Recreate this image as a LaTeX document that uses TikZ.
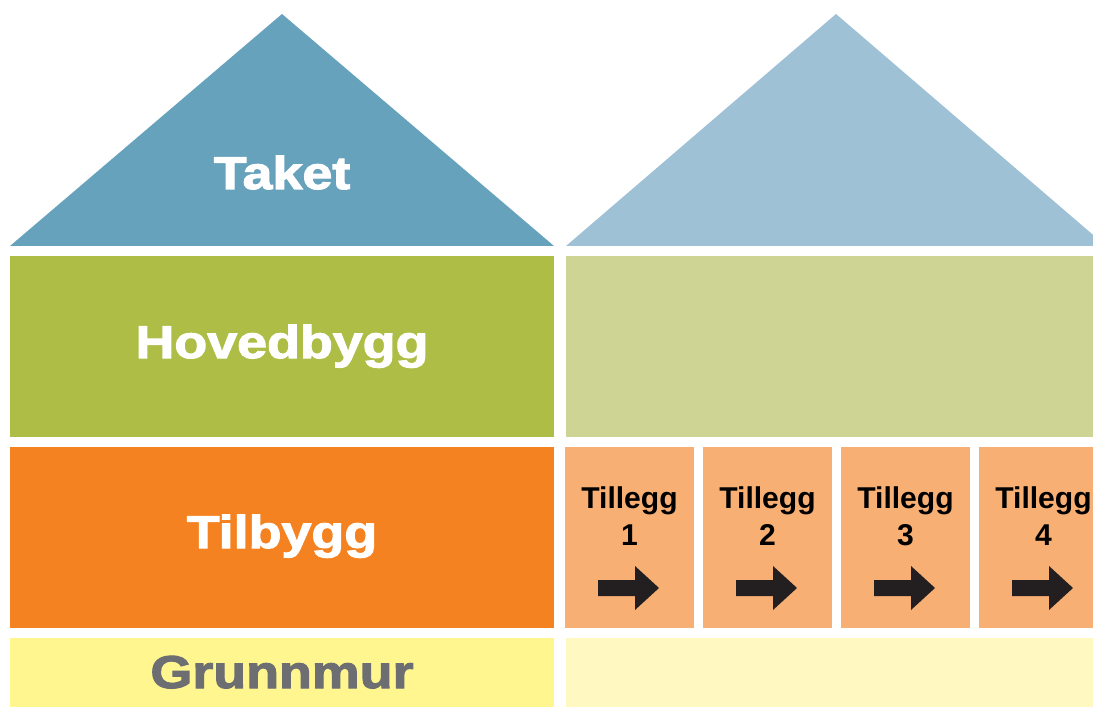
\documentclass[tikz,border=0pt]{standalone}
\usepackage{fontspec}
\setmainfont{Liberation Sans}
\newfontfamily\tykk{Liberation Sans}[FakeBold=2.5,FakeStretch=1.17]

\definecolor{taketmork}{HTML}{67A2BD}
\definecolor{taketlys}{HTML}{9FC1D6}
\definecolor{hovedmork}{HTML}{ADBD45}
\definecolor{hovedlys}{HTML}{CDD494}
\definecolor{tilbyggmork}{HTML}{F58220}
\definecolor{tilleggfarge}{HTML}{F8AF73}
\definecolor{grunnmork}{HTML}{FFF68F}
\definecolor{grunnlys}{HTML}{FFF9C1}
\definecolor{grunntekst}{HTML}{6D6E71}
\definecolor{pil}{HTML}{231F20}

\begin{document}
\begin{tikzpicture}[x=0.025cm,y=-0.025cm,
  stor/.style={font=\tykk\fontsize{32.7}{36}\selectfont\bfseries,text=white,anchor=base,inner sep=0pt},
  liten/.style={font=\fontsize{21.4}{26}\selectfont\bfseries,align=center,text=black}]
  %ramme
  	\useasboundingbox (0,0) rectangle (1093,709);
  	\fill[white] (0,0) rectangle (1093,709);
  	\clip (0,0) rectangle (1093,709);

  %taket
  	\fill[taketmork] (10,246) -- (282,14) -- (554,246) -- cycle;
  	\fill[taketlys] (566,246) -- (836,14) -- (1106,246) -- cycle;
  	\node[stor] (taket) at (282,189) {Taket};

  %hovedbygg
  	\fill[hovedmork] (10,256) rectangle (554,437);
  	\fill[hovedlys] (566,256) rectangle (1108,437);
  	\node[stor] (hovedbygg) at (282,358) {Hovedbygg};

  %tilbygg
  	\fill[tilbyggmork] (10,447) rectangle (554,628);
  	\node[stor] (tilbygg) at (282,548) {Tilbygg};

  %tillegg 1-4 med piler
  	\foreach \n in {1,...,4}{
  	  \pgfmathsetmacro\xv{565+138*(\n-1)}
  	  \fill[tilleggfarge] (\xv,447) rectangle ++(129,181);
  	  \node[liten] (tillegg\n) at (\xv+64.5,516) {Tillegg\\\n};
  	  \fill[pil] (\xv+33,580) -- ++(37,0) -- ++(0,-14) -- ++(24,22) -- ++(-24,22)
  	    -- ++(0,-14) -- ++(-37,0) -- cycle;
  	}

  %grunnmur
  	\fill[grunnmork] (10,638) rectangle (554,707);
  	\fill[grunnlys] (566,638) rectangle (1108,707);
  	\node[stor,text=grunntekst] (grunnmur) at (282,688) {Grunnmur};
\end{tikzpicture}
\end{document}
